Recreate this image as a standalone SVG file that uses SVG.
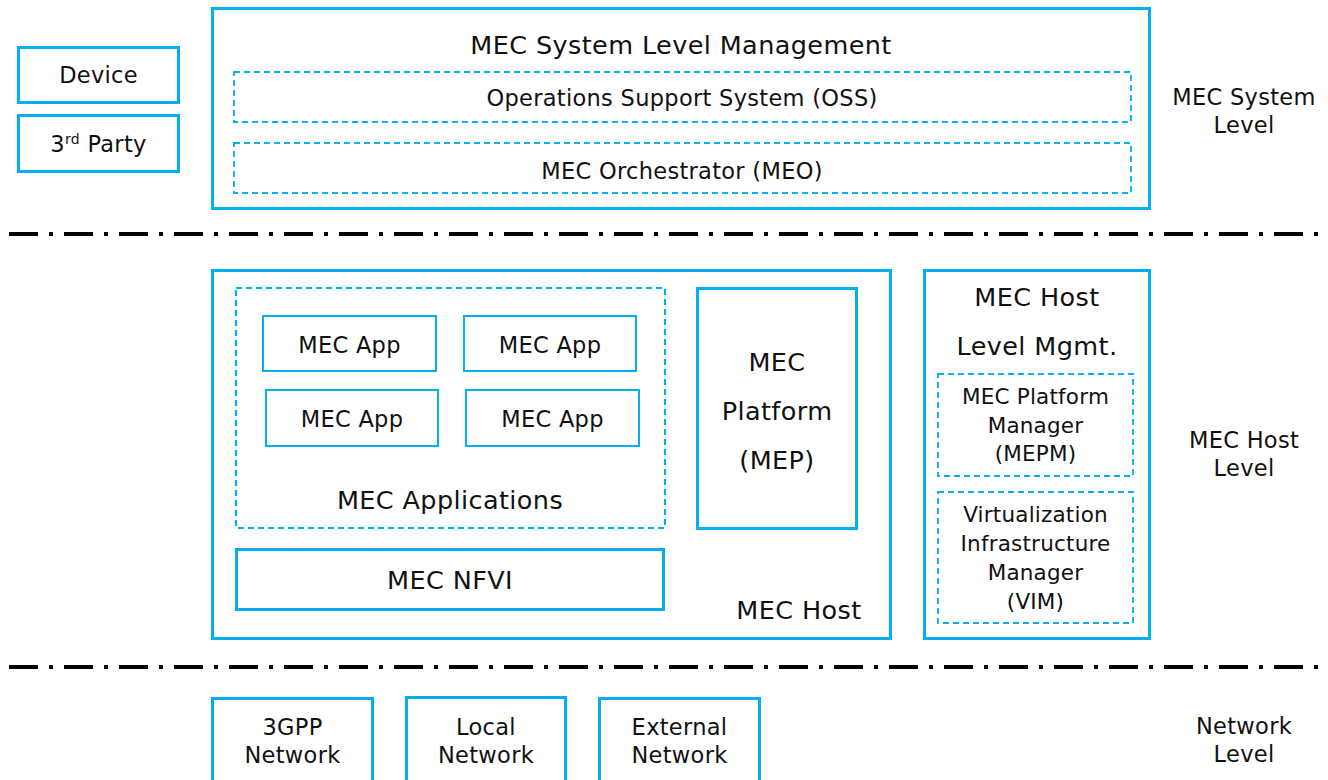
<svg xmlns="http://www.w3.org/2000/svg" width="1328" height="780" viewBox="0 0 1328 780">
<style>
text{font-family:"DejaVu Sans","Verdana",sans-serif;fill:#111;text-anchor:middle}
.b3{fill:none;stroke:#00b0f0;stroke-width:3}
.b2{fill:none;stroke:#00b0f0;stroke-width:2}
.d{fill:none;stroke:#00b0f0;stroke-width:1.8;stroke-dasharray:6 4}
.dd{fill:none;stroke:#00b0f0;stroke-width:2.2;stroke-dasharray:6 4}
.sep{stroke:#000;stroke-width:4;stroke-dasharray:29 11 4 11}
.t24{font-size:25.5px;letter-spacing:0.4px}
.t21{font-size:22.5px;letter-spacing:0.3px}
.t20{font-size:21.5px;letter-spacing:0.2px}
</style>
<rect width="1328" height="780" fill="#fff"/>
<g id="connectors">
<line class="sep" x1="9" y1="234" x2="1318" y2="234"/>
<line class="sep" x1="9" y1="667" x2="1318" y2="667"/>
</g>
<g id="device"><rect class="b3" x="18.5" y="47.5" width="160" height="55"/><text class="t21" x="98.5" y="83">Device</text></g>
<g id="third-party"><rect class="b3" x="18.5" y="115.5" width="160" height="56"/><text class="t21" x="98.5" y="152">3<tspan font-size="14" dy="-8">rd</tspan><tspan dy="8"> Party</tspan></text></g>
<g id="mec-system-level-mgmt"><rect class="b3" x="212.5" y="8.5" width="937" height="200"/><text class="t24" x="681" y="54">MEC System Level Management</text></g>
<g id="oss"><rect class="d" x="234" y="72" width="897" height="50"/><text class="t21" x="682" y="106">Operations Support System (OSS)</text></g>
<g id="meo"><rect class="d" x="234" y="143" width="897" height="50"/><text class="t21" x="682" y="179">MEC Orchestrator (MEO)</text></g>
<g id="mec-host"><rect class="b3" x="212.5" y="270.5" width="678" height="368"/><text class="t24" x="799" y="619">MEC Host</text></g>
<g id="mec-applications"><rect class="dd" x="236" y="288" width="429" height="240"/><text class="t24" x="450" y="509">MEC Applications</text></g>
<g id="app1"><rect class="b2" x="263" y="316" width="173" height="55"/><text class="t21" x="349.5" y="353">MEC App</text></g>
<g id="app2"><rect class="b2" x="464" y="316" width="172" height="55"/><text class="t21" x="550" y="353">MEC App</text></g>
<g id="app3"><rect class="b2" x="266" y="390" width="172" height="56"/><text class="t21" x="352" y="427">MEC App</text></g>
<g id="app4"><rect class="b2" x="466" y="390" width="173" height="56"/><text class="t21" x="552.5" y="427">MEC App</text></g>
<g id="mec-nfvi"><rect class="b3" x="236.5" y="549.5" width="427" height="60"/><text class="t24" x="450" y="589">MEC NFVI</text></g>
<g id="mep"><rect class="b3" x="697.5" y="288.5" width="159" height="240"/><text class="t24" x="777" y="371">MEC</text><text class="t24" x="777" y="420">Platform</text><text class="t24" x="777" y="469">(MEP)</text></g>
<g id="host-level-mgmt"><rect class="b3" x="924.5" y="270.5" width="225" height="368"/><text class="t24" x="1037" y="306">MEC Host</text><text class="t24" x="1037" y="355">Level Mgmt.</text></g>
<g id="mepm"><rect class="d" x="938" y="374" width="195" height="102"/><text class="t20" x="1035.5" y="404">MEC Platform</text><text class="t20" x="1035.5" y="433">Manager</text><text class="t20" x="1035.5" y="461">(MEPM)</text></g>
<g id="vim"><rect class="d" x="938" y="492" width="195" height="131"/><text class="t20" x="1035.5" y="522">Virtualization</text><text class="t20" x="1035.5" y="551">Infrastructure</text><text class="t20" x="1035.5" y="580">Manager</text><text class="t20" x="1035.5" y="609">(VIM)</text></g>
<g id="net-3gpp"><rect class="b3" x="212.5" y="698.5" width="160" height="90"/><text class="t21" x="292.5" y="735">3GPP</text><text class="t21" x="292.5" y="763">Network</text></g>
<g id="net-local"><rect class="b3" x="406.5" y="697.5" width="159" height="90"/><text class="t21" x="486" y="735">Local</text><text class="t21" x="486" y="763">Network</text></g>
<g id="net-external"><rect class="b3" x="599.5" y="698.5" width="160" height="90"/><text class="t21" x="679.5" y="735">External</text><text class="t21" x="679.5" y="763">Network</text></g>
<g id="label-system-level"><text class="t21" x="1244" y="105">MEC System</text><text class="t21" x="1244" y="133">Level</text></g>
<g id="label-host-level"><text class="t21" x="1244" y="448">MEC Host</text><text class="t21" x="1244" y="476">Level</text></g>
<g id="label-network-level"><text class="t21" x="1244" y="734">Network</text><text class="t21" x="1244" y="762">Level</text></g>
</svg>
